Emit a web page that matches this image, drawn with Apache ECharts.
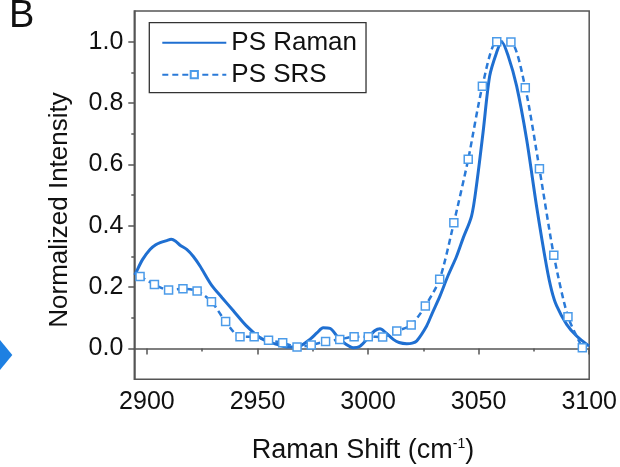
<!DOCTYPE html>
<html>
<head>
<meta charset="utf-8">
<script src="https://cdn.jsdelivr.net/npm/echarts@6/dist/echarts.min.js"></script>
<style>
  html, body { margin: 0; padding: 0; background: #fff; }
  #chart { width: 620px; height: 467px; }
</style>
</head>
<body>
<div id="chart"></div>
<script>
// Spontaneous Raman spectrum of PS (continuous trace)
const ramanShift = [2894.5, 2895, 2898, 2901.4, 2904, 2906, 2909, 2911, 2913, 2915, 2918, 2921, 2924,
  2929.3, 2934, 2939, 2945, 2951, 2955, 2958.7, 2963, 2969, 2973.7, 2977, 2979.7, 2982.8, 2986.5,
  2990, 2993.3, 2996.4, 3000, 3003, 3005.4, 3008, 3011.4, 3014, 3017.5, 3020, 3022, 3026.5, 3029,
  3032.5, 3036, 3040, 3043, 3046.8, 3049, 3052, 3055, 3058.1, 3060.4, 3063.4, 3067.2, 3071.7,
  3076.2, 3080.7, 3083, 3085.3, 3089.8, 3094.3, 3100];
const ramanIntensity = [0.24, 0.247, 0.29, 0.323, 0.338, 0.345, 0.352, 0.356, 0.35, 0.337, 0.323, 0.30, 0.269,
  0.206, 0.166, 0.124, 0.074, 0.036, 0.022, 0.014, 0.005, 0.008, 0.03, 0.052, 0.068, 0.066, 0.036,
  0.014, 0.003, 0.008, 0.035, 0.058, 0.065, 0.052, 0.03, 0.02, 0.016, 0.018, 0.025, 0.074, 0.115,
  0.171, 0.235, 0.30, 0.36, 0.432, 0.53, 0.704, 0.888, 0.964, 1.0, 0.953, 0.855, 0.682,
  0.464, 0.269, 0.19, 0.139, 0.079, 0.041, 0.008];

// SRS spectrum of PS (sampled points)
const srsShift = [2896.9, 2903.4, 2909.8, 2916.3, 2922.7, 2929.2, 2935.6, 2942.1, 2948.5, 2955,
  2961.4, 2967.9, 2974.3, 2980.8, 2987.2, 2993.7, 3000.1, 3006.6, 3013, 3019.5, 3025.9, 3032.4,
  3038.8, 3045.3, 3051.7, 3058.2, 3064.6, 3071.1, 3077.5, 3084, 3090.4, 3096.9];
const srsIntensity = [0.235, 0.209, 0.191, 0.195, 0.188, 0.153, 0.088, 0.039, 0.039, 0.027,
  0.019, 0.005, 0.012, 0.023, 0.03, 0.039, 0.039, 0.038, 0.057, 0.077, 0.139, 0.226,
  0.41, 0.617, 0.855, 1.0, 0.999, 0.85, 0.586, 0.304, 0.104, 0.003];

// Axis ticks
const xMajorTicks = [2900, 2950, 3000, 3050, 3100];
const xMinorTicks = [2925, 2975, 3025, 3075];
const yMajorTicks = [0, 0.2, 0.4, 0.6, 0.8, 1.0];
const yMinorTicks = [0.1, 0.3, 0.5, 0.7, 0.9];

const FONT = 'Liberation Sans, Arial, sans-serif';
const AXIS_COLOR = '#555';
const LINE_BLUE = '#1f6fd1';
const SRS_BLUE = '#2a7ad8';
const SQUARE_EDGE = '#4b9be9';

const zip = (xs, ys) => xs.map((x, i) => [x, ys[i]]);

const chart = echarts.init(document.getElementById('chart'), null, { renderer: 'canvas' });

const xRange = { min: 2894.3, max: 3100 };
const yRange = { min: -0.1, max: 1.1 };

chart.setOption({
  animation: false,
  backgroundColor: '#fff',
  grid: {
    left: 134.3, right: 30.7, top: 11, bottom: 87.7,
    show: true, borderColor: AXIS_COLOR, borderWidth: 1.5, backgroundColor: 'transparent'
  },
  legend: {
    orient: 'vertical',
    left: 149.3, top: 22.7,
    padding: [7, 9, 5, 12],
    itemGap: 6,
    itemWidth: 64,
    itemHeight: 9,
    borderColor: '#333',
    borderWidth: 1.3,
    textStyle: { fontFamily: FONT, fontSize: 26, color: '#111', lineHeight: 26 },
    data: [
      { name: 'PS Raman', itemStyle: { opacity: 0 } },
      { name: 'PS SRS' }
    ]
  },
  xAxis: [
    {
      type: 'value', ...xRange, position: 'bottom',
      axisLine: { show: true, lineStyle: { color: AXIS_COLOR, width: 1.5 } },
      axisTick: { show: true, inside: false, length: 6, customValues: xMajorTicks,
        lineStyle: { color: AXIS_COLOR, width: 1.5 } },
      axisLabel: { show: true, customValues: xMajorTicks, margin: 10,
        fontFamily: FONT, fontSize: 25, color: '#111', formatter: v => String(Math.round(v)) },
      splitLine: { show: false }
    },
    {
      type: 'value', ...xRange, position: 'bottom', gridIndex: 0,
      axisLine: { show: false },
      axisTick: { show: true, inside: false, length: 3, customValues: xMinorTicks,
        lineStyle: { color: AXIS_COLOR, width: 1.5 } },
      axisLabel: { show: false },
      splitLine: { show: false }
    }
  ],
  yAxis: [
    {
      type: 'value', ...yRange, position: 'left',
      axisLine: { show: true, lineStyle: { color: AXIS_COLOR, width: 1.5 } },
      axisTick: { show: true, inside: false, length: 6, customValues: yMajorTicks,
        lineStyle: { color: AXIS_COLOR, width: 1.5 } },
      axisLabel: { show: true, customValues: yMajorTicks, margin: 11,
        fontFamily: FONT, fontSize: 25, color: '#111', formatter: v => v.toFixed(1) },
      splitLine: { show: false }
    },
    {
      type: 'value', ...yRange, position: 'left', gridIndex: 0,
      axisLine: { show: false },
      axisTick: { show: true, inside: false, length: 3, customValues: yMinorTicks,
        lineStyle: { color: AXIS_COLOR, width: 1.5 } },
      axisLabel: { show: false },
      splitLine: { show: false }
    }
  ],
  series: [
    {
      name: 'PS Raman',
      type: 'line',
      xAxisIndex: 0, yAxisIndex: 0,
      data: zip(ramanShift, ramanIntensity),
      symbol: 'none',
      smooth: 0.3,
      color: LINE_BLUE,
      lineStyle: { color: LINE_BLUE, width: 3 },
      z: 3
    },
    {
      name: 'PS SRS',
      type: 'line',
      xAxisIndex: 0, yAxisIndex: 0,
      data: zip(srsShift, srsIntensity),
      symbol: 'rect',
      symbolSize: 8,
      smooth: 0.25,
      color: SRS_BLUE,
      lineStyle: { color: SRS_BLUE, width: 2.5, type: [6, 4] },
      itemStyle: { color: '#fff', borderColor: SQUARE_EDGE, borderWidth: 1.5 },
      z: 4
    }
  ],
  graphic: [
    {
      type: 'text', left: 9, top: -2,
      style: { text: 'B', fontFamily: FONT, fontSize: 38, fill: '#111' }
    },
    {
      type: 'text', x: 60, y: 210, rotation: Math.PI / 2,
      style: { text: 'Normalized Intensity', fontFamily: FONT, fontSize: 26, fill: '#111',
        align: 'center', verticalAlign: 'middle' }
    },
    {
      type: 'text', x: 363, y: 451,
      style: {
        text: 'Raman Shift (cm{sup|-1})',
        fontFamily: FONT, fontSize: 27, fill: '#111',
        align: 'center', verticalAlign: 'middle',
        rich: { sup: { fontFamily: FONT, fontSize: 14, fill: '#111', padding: [0, 0, 14, 0] } }
      }
    },
    {
      type: 'polygon',
      shape: { points: [[0, 340], [12.3, 355], [0, 370]] },
      style: { fill: '#1e80e2' }
    }
  ]
});
</script>
</body>
</html>
